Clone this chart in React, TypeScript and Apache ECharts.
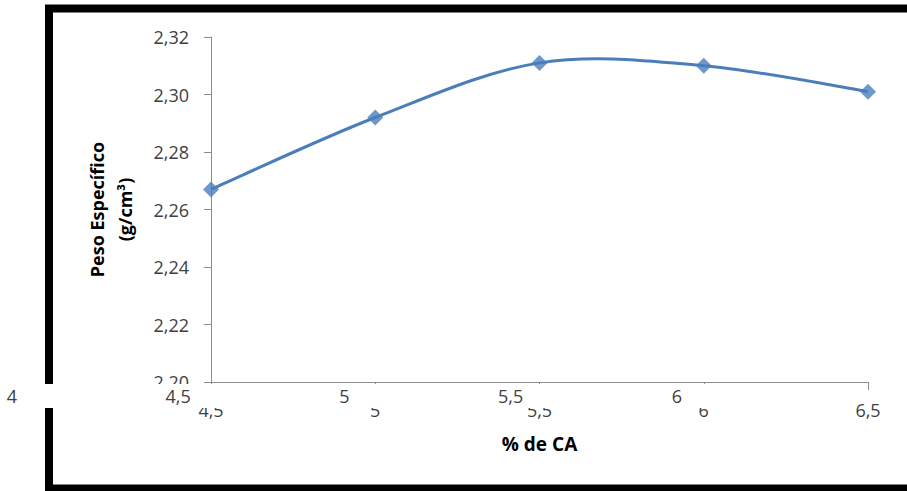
import React, { useEffect, useRef } from "react";
import * as echarts from "echarts";

// Porcentaje de cemento asfáltico vs. peso específico
const pctCA = [4.5, 5.0, 5.5, 6.0, 6.5];
const pesoEspecifico = [2.267, 2.292, 2.311, 2.31, 2.301];
const bandTicks = [4, 4.5, 5, 5.5, 6];

const fmt = (v: number, d: number) => v.toFixed(d).replace(".", ",");
const fmtX = (v: number) => (Number.isInteger(v) ? String(v) : fmt(v, 1));

// Catmull-Rom style smoothing through pixel points, as cubic Bézier segments
function smoothPath(pts: number[][]): string {
  if (!pts.length) return "";
  let d = `M${pts[0][0]},${pts[0][1]}`;
  for (let i = 0; i < pts.length - 1; i++) {
    const p0 = pts[i - 1] || pts[i];
    const p1 = pts[i];
    const p2 = pts[i + 1];
    const p3 = pts[i + 2] || p2;
    const c1x = p1[0] + (p2[0] - p0[0]) / 6;
    const c1y = p1[1] + (p2[1] - p0[1]) / 6;
    const c2x = p2[0] - (p3[0] - p1[0]) / 6;
    const c2y = p2[1] - (p3[1] - p1[1]) / 6;
    d += ` C${c1x},${c1y} ${c2x},${c2y} ${p2[0]},${p2[1]}`;
  }
  return d;
}

export default function App() {
  const ref = useRef<HTMLDivElement>(null);

  useEffect(() => {
    document.body.style.margin = "0";
    if (!ref.current) return;
    const chart = echarts.init(ref.current, null, { renderer: "svg" });
    const font = "'Open Sans', 'Liberation Sans', sans-serif";
    const blue = "#4A7EBB";
    chart.setOption({
      animation: false,
      backgroundColor: "#ffffff",
      textStyle: { fontFamily: font },
      grid: [
        { left: 211, right: 39, top: 37, bottom: 109 },
        { left: 12, right: 64, top: 300, bottom: 107 },
      ],
      xAxis: [
        {
          type: "value",
          gridIndex: 0,
          min: 4.5,
          max: 6.5,
          interval: 0.5,
          z: 0,
          axisLine: { onZero: false, lineStyle: { color: "#8c8c8c", width: 1 } },
          axisTick: { show: true, inside: false, length: 8, lineStyle: { color: "#8c8c8c" } },
          splitLine: { show: false },
          axisLabel: {
            color: "#404040",
            fontSize: 18,
            margin: 19,
            fontFamily: font,
            formatter: (v: number) => fmtX(v),
          },
          name: "% de CA",
          nameLocation: "middle",
          nameGap: 52,
          nameTextStyle: { fontWeight: "bold", fontSize: 19, color: "#000", fontFamily: font },
        },
        {
          type: "value",
          gridIndex: 1,
          min: 4,
          max: 6.5,
          interval: 0.5,
          z: 120,
          axisLine: { show: false },
          axisTick: { show: false },
          splitLine: { show: false },
          axisLabel: {
            color: "#404040",
            fontSize: 18,
            margin: 3,
            fontFamily: font,
            showMaxLabel: false,
            formatter: (v: number) => (bandTicks.includes(v) ? fmtX(v) : ""),
          },
        },
      ],
      yAxis: [
        {
          type: "value",
          gridIndex: 0,
          min: 2.2,
          max: 2.32,
          interval: 0.02,
          axisLine: { show: true, lineStyle: { color: "#8c8c8c", width: 1 } },
          axisTick: { show: true, inside: false, length: 7, lineStyle: { color: "#8c8c8c" } },
          splitLine: { show: false },
          axisLabel: {
            color: "#404040",
            fontSize: 18,
            margin: 22,
            fontFamily: font,
            formatter: (v: number) => fmt(v, 2),
          },
          name: "Peso Específico\n(g/cm³)",
          nameLocation: "middle",
          nameGap: 72,
          nameTextStyle: {
            fontWeight: "bold",
            fontSize: 18,
            color: "#000",
            lineHeight: 28,
            align: "center",
            fontFamily: font,
          },
        },
        { type: "value", gridIndex: 1, min: 0, max: 1, show: false },
      ],
      series: [
        {
          type: "custom",
          xAxisIndex: 0,
          yAxisIndex: 0,
          data: [0],
          z: 2,
          silent: true,
          renderItem: (_params: any, api: any) => {
            const pts = pctCA.map((x, i) => api.coord([x, pesoEspecifico[i]]));
            return {
              type: "path",
              shape: { pathData: smoothPath(pts) },
              style: { fill: "none", stroke: blue, lineWidth: 3 },
            };
          },
        },
        {
          type: "scatter",
          xAxisIndex: 0,
          yAxisIndex: 0,
          data: pctCA.map((x, i) => [x, pesoEspecifico[i]]),
          symbol: "diamond",
          symbolSize: 16,
          itemStyle: { color: blue },
          z: 3,
        },
      ],
      graphic: [
        {
          type: "rect",
          z: 1,
          shape: { x: 49, y: 8.5, width: 900, height: 480 },
          style: { fill: "none", stroke: "#000", lineWidth: 8 },
        },
        {
          type: "rect",
          z: 100,
          shape: { x: 0, y: 384, width: 850, height: 24 },
          style: { fill: "#ffffff" },
        },
      ],
    });
    return () => chart.dispose();
  }, []);

  return <div ref={ref} style={{ width: 907, height: 491 }} />;
}
